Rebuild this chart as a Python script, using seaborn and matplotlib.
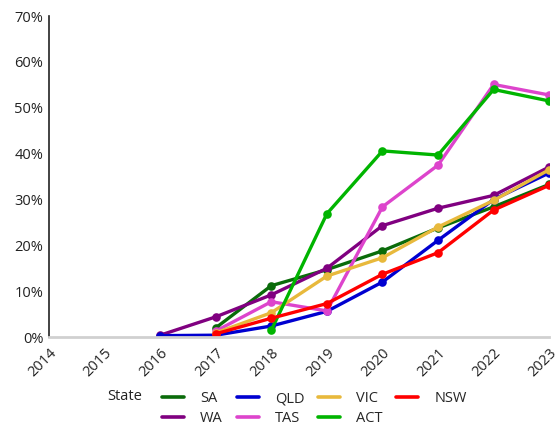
import numpy as np
import pandas as pd
import matplotlib.pyplot as plt
import seaborn as sns
from matplotlib.ticker import PercentFormatter

years = [2014, 2015, 2016, 2017, 2018, 2019, 2020, 2021, 2022, 2023]
nan = np.nan

# share (%) by state and year
sa = [nan, nan, nan, 2.0, 11.2, 14.7, 18.8, 23.8, 28.4, 33.3]
qld = [nan, nan, 0.3, 0.4, 2.4, 5.6, 12.0, 21.1, 30.0, 35.8]
vic = [nan, nan, nan, 0.9, 5.3, 13.3, 17.3, 24.0, 29.8, 36.5]
nsw = [nan, nan, nan, 0.7, 4.1, 7.3, 13.7, 18.4, 27.7, 33.1]
wa = [nan, nan, 0.4, 4.4, 9.2, 15.0, 24.3, 28.1, 30.9, 37.1]
tas = [nan, nan, nan, 1.3, 7.7, 5.7, 28.4, 37.5, 55.1, 52.8]
act = [nan, nan, nan, nan, 1.5, 26.9, 40.6, 39.7, 54.0, 51.5]

states = ['SA', 'WA', 'QLD', 'TAS', 'VIC', 'ACT', 'NSW']
series = [sa, wa, qld, tas, vic, act, nsw]
colours = ['#0a6b0a', '#800080', '#0000d0', '#dd44cc', '#e8b93c', '#00b400', '#ff0000']

rows = []
for st, vals in zip(states, series):
    for yr, v in zip(years, vals):
        rows.append({'Year': yr, 'State': st, 'Share': v})
df = pd.DataFrame(rows).dropna()

sns.set_style('white')
plt.rcParams['font.family'] = ['Open Sans', 'DejaVu Sans']

fig = plt.figure(figsize=(5.57, 4.25), dpi=100)
ax = fig.add_axes([0.088, 0.207, 0.898, 0.755])

sns.lineplot(data=df, x='Year', y='Share', hue='State', hue_order=states,
             palette=colours, marker='o', markersize=6.2, markeredgewidth=0,
             linewidth=2.4, ax=ax, legend=False)

ax.set_xlim(2014, 2023)
ax.set_ylim(0, 70)
ax.set_xticks(years)
ax.set_xticklabels([str(y) for y in years], rotation=45, ha='right',
                   rotation_mode='anchor', fontsize=10.5, color='#222222')
ax.yaxis.set_major_formatter(PercentFormatter(decimals=0))
ax.set_yticks(range(0, 71, 10))
ax.tick_params(axis='y', labelsize=10.5, colors='#222222', length=3, width=1, pad=1)
ax.tick_params(axis='x', length=3, width=1, color='#d0d0d0', pad=3)
ax.set_xlabel('')
ax.set_ylabel('')

for s in ['top', 'right']:
    ax.spines[s].set_visible(False)
ax.spines['left'].set_color('#222222')
ax.spines['left'].set_linewidth(1.2)
ax.spines['bottom'].set_color('#d0d0d0')
ax.spines['bottom'].set_linewidth(2)

handles = [plt.Line2D([], [], color=c, linewidth=2.6) for c in colours]
fig.legend(handles, states, ncol=4, loc='upper left', bbox_to_anchor=(0.281, 0.093),
           frameon=False, fontsize=10.5, handlelength=1.5, handletextpad=1.1,
           columnspacing=0.95, labelspacing=0.3, borderaxespad=0)
fig.text(0.192, 0.068, 'State', fontsize=10.5, color='#222222', va='center')

plt.savefig('out.png', dpi=100)
